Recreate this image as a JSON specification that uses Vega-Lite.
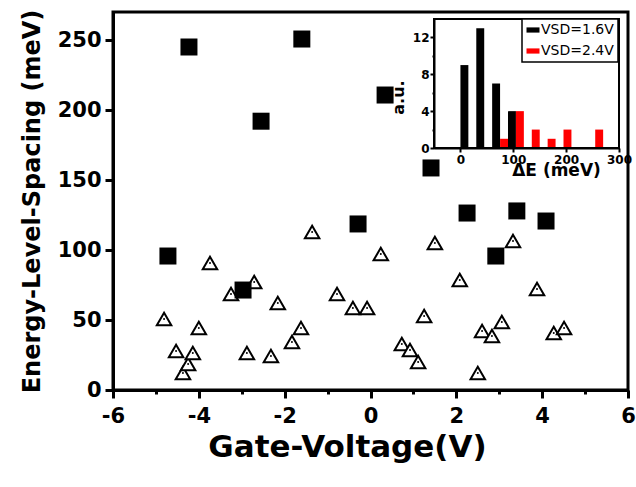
{
  "$schema": "https://vega.github.io/schema/vega-lite/v6.json",
  "width": 515,
  "height": 378,
  "autosize": "none",
  "padding": {"left": 113, "top": 12, "right": 8, "bottom": 97},
  "background": "white",
  "config": {
    "view": {"stroke": "black", "strokeWidth": 3},
    "font": "DejaVu Sans"
  },
  "datasets": {
    "sq": [
      {"gate": -4.72, "e": 95.7},
      {"gate": -4.23, "e": 245},
      {"gate": -2.55, "e": 192},
      {"gate": -1.6, "e": 250.7},
      {"gate": -2.97, "e": 71.4},
      {"gate": -0.29, "e": 118.6},
      {"gate": 0.34, "e": 210.7},
      {"gate": 1.41, "e": 158.6},
      {"gate": 2.25, "e": 126.4},
      {"gate": 2.92, "e": 95.7},
      {"gate": 3.41, "e": 127.9},
      {"gate": 4.09, "e": 120.7}
    ],
    "tri": [
      {"gate": -4.81, "e": 50.7},
      {"gate": -4.53, "e": 27.9},
      {"gate": -4.37, "e": 12.1},
      {"gate": -4.25, "e": 18.6},
      {"gate": -4.14, "e": 26.4},
      {"gate": -4.0, "e": 44.3},
      {"gate": -3.74, "e": 90.7},
      {"gate": -3.25, "e": 68.6},
      {"gate": -2.71, "e": 77.1},
      {"gate": -2.88, "e": 26.4},
      {"gate": -2.32, "e": 24.3},
      {"gate": -2.16, "e": 62.1},
      {"gate": -1.62, "e": 44.3},
      {"gate": -1.83, "e": 34.3},
      {"gate": -1.36, "e": 112.9},
      {"gate": -0.78, "e": 68.6},
      {"gate": -0.41, "e": 58.6},
      {"gate": -0.08, "e": 58.6},
      {"gate": 0.24, "e": 97.1},
      {"gate": 0.73, "e": 32.9},
      {"gate": 0.92, "e": 28.6},
      {"gate": 1.11, "e": 20},
      {"gate": 1.25, "e": 52.9},
      {"gate": 1.5, "e": 105},
      {"gate": 2.08, "e": 78.6},
      {"gate": 3.32, "e": 106.4},
      {"gate": 3.88, "e": 72.1},
      {"gate": 2.5, "e": 12.1},
      {"gate": 2.6, "e": 42.1},
      {"gate": 2.83, "e": 38.6},
      {"gate": 3.06, "e": 48.6},
      {"gate": 4.27, "e": 40.7},
      {"gate": 4.51, "e": 44.3}
    ],
    "hist": [
      {"series": "VSD=1.6V", "lo": 0, "hi": 15, "count": 9},
      {"series": "VSD=1.6V", "lo": 30, "hi": 45, "count": 13},
      {"series": "VSD=1.6V", "lo": 60, "hi": 75, "count": 7},
      {"series": "VSD=1.6V", "lo": 90, "hi": 105, "count": 4},
      {"series": "VSD=2.4V", "lo": 75, "hi": 90, "count": 1},
      {"series": "VSD=2.4V", "lo": 105, "hi": 120, "count": 4},
      {"series": "VSD=2.4V", "lo": 135, "hi": 150, "count": 2},
      {"series": "VSD=2.4V", "lo": 165, "hi": 180, "count": 1},
      {"series": "VSD=2.4V", "lo": 195, "hi": 210, "count": 2},
      {"series": "VSD=2.4V", "lo": 255, "hi": 270, "count": 2}
    ]
  },
  "layer": [
    {
      "layer": [
        {
          "data": {"name": "tri"},
          "mark": {"type": "point", "shape": "triangle-up", "filled": false, "stroke": "black", "strokeWidth": 2, "fill": "white", "fillOpacity": 1, "size": 210, "opacity": 1},
          "encoding": {
            "x": {
              "field": "gate", "type": "quantitative",
              "scale": {"domain": [-6, 6], "nice": false, "zero": false},
              "axis": {
                "values": [-6, -5, -4, -3, -2, -1, 0, 1, 2, 3, 4, 5, 6],
                "labelExpr": "datum.value % 2 === 0 ? '' + datum.value : ''",
                "tickSize": {"condition": {"test": "datum.value % 2 !== 0", "value": 4}, "value": 8},
                "tickWidth": 3, "tickColor": "black",
                "domainWidth": 3, "domainColor": "black",
                "grid": false,
                "labelFont": "DejaVu Sans", "labelFontWeight": "bold", "labelFontSize": 21, "labelColor": "black",
                "labelPadding": 7, "labelOverlap": false, "labelFlush": false,
                "title": "Gate-Voltage(V)", "titleFont": "DejaVu Sans", "titleFontSize": 31, "titleFontWeight": "bold", "titleColor": "black",
                "titleX": 234, "titleY": 42, "titleBaseline": "top", "titleAlign": "center"
              }
            },
            "y": {
              "field": "e", "type": "quantitative",
              "scale": {"domain": [0, 270], "nice": false, "zero": false},
              "axis": {
                "values": [0, 25, 50, 75, 100, 125, 150, 175, 200, 225, 250],
                "labelExpr": "datum.value % 50 === 0 ? '' + datum.value : ''",
                "tickSize": {"condition": {"test": "datum.value % 50 !== 0", "value": 4}, "value": 8},
                "tickWidth": 3, "tickColor": "black",
                "domainWidth": 3, "domainColor": "black",
                "grid": false,
                "labelFont": "DejaVu Sans", "labelFontWeight": "bold", "labelFontSize": 21, "labelColor": "black",
                "labelPadding": 4, "labelOverlap": false, "labelFlush": false,
                "title": "Energy-Level-Spacing (meV)", "titleFont": "DejaVu Sans", "titleFontSize": 24, "titleFontWeight": "bold", "titleColor": "black", "titlePadding": 13
              }
            }
          }
        },
        {
          "data": {"name": "tri"},
          "mark": {"type": "point", "shape": "circle", "filled": true, "color": "black", "size": 4, "opacity": 1},
          "encoding": {
            "x": {"field": "gate", "type": "quantitative"},
            "y": {"field": "e", "type": "quantitative"}
          }
        },
        {
          "data": {"name": "sq"},
          "mark": {"type": "point", "shape": "square", "filled": true, "color": "black", "size": 289, "opacity": 1},
          "encoding": {
            "x": {"field": "gate", "type": "quantitative"},
            "y": {"field": "e", "type": "quantitative"}
          }
        }
      ]
    },
    {
      "layer": [
        {
          "data": {"name": "hist"},
          "mark": {"type": "rect"},
          "encoding": {
            "x": {
              "field": "lo", "type": "quantitative",
              "scale": {"domain": [-50, 300], "range": [321, 506], "nice": false, "zero": false},
              "axis": {
                "orient": "bottom", "offset": -242, "zindex": 2,
                "values": [0, 100, 200, 300],
                "tickSize": 4, "tickWidth": 2, "tickColor": "black",
                "domainWidth": 2, "domainColor": "black", "grid": false,
                "labelFont": "DejaVu Sans", "labelFontWeight": "bold", "labelFontSize": 12, "labelColor": "black",
                "labelPadding": 2, "labelOverlap": false, "labelFlush": false,
                "title": "ΔE (meV)", "titleFont": "DejaVu Sans", "titleFontSize": 17, "titleFontWeight": "bold", "titleColor": "black",
                "titleX": 443, "titleY": 14, "titleBaseline": "top", "titleAlign": "center"
              }
            },
            "x2": {"field": "hi"},
            "y": {
              "field": "count", "type": "quantitative",
              "scale": {"domain": [0, 14], "range": [136, 7], "nice": false, "zero": true},
              "axis": {
                "orient": "left", "offset": -321, "zindex": 2,
                "values": [0, 2, 4, 6, 8, 10, 12],
                "labelExpr": "datum.value % 4 === 0 ? '' + datum.value : ''",
                "tickSize": {"condition": {"test": "datum.value % 4 !== 0", "value": 2}, "value": 4},
                "tickWidth": 2, "tickColor": "black",
                "domainWidth": 2, "domainColor": "black", "grid": false,
                "labelFont": "DejaVu Sans", "labelFontWeight": "bold", "labelFontSize": 12, "labelColor": "black",
                "labelPadding": 1, "labelOverlap": false, "labelFlush": false,
                "title": "a.u.", "titleFont": "DejaVu Sans", "titleFontSize": 16, "titleFontWeight": "bold", "titleColor": "black", "titlePadding": 6,
                "titleY": 85
              }
            },
            "y2": {"datum": 0},
            "color": {
              "field": "series", "type": "nominal",
              "scale": {"domain": ["VSD=1.6V", "VSD=2.4V"], "range": ["black", "#ff0000"]},
              "legend": {
                "orient": "none", "legendX": 409, "legendY": 7,
                "title": null,
                "strokeColor": "black", "padding": 4, "fillColor": "white",
                "symbolType": "M-1,-0.4H1V0.4H-1Z", "symbolSize": 169, "symbolStrokeWidth": 0,
                "labelFont": "DejaVu Sans", "labelFontSize": 14, "labelColor": "black", "labelOffset": 1,
                "rowPadding": 7,
                "encode": {"legend": {"update": {"strokeWidth": {"value": 1.5}}}}
              }
            }
          }
        },
        {
          "data": {"values": [{}]},
          "mark": {"type": "rect", "fill": null, "filled": false, "stroke": "black", "strokeWidth": 2},
          "encoding": {
            "x": {"datum": -50, "type": "quantitative"},
            "x2": {"datum": 300},
            "y": {"datum": 0, "type": "quantitative"},
            "y2": {"datum": 14}
          }
        }
      ]
    }
  ],
  "resolve": {"scale": {"x": "independent", "y": "independent", "color": "independent"}}
}
